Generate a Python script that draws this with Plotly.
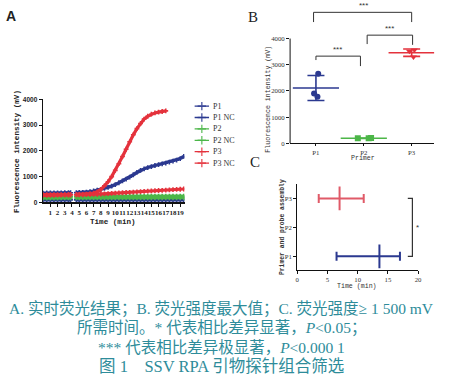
import plotly.graph_objects as go
import numpy as np

W, H = 449, 388


def px(x):
    return x / W


def py(y):
    return 1 - y / H


# ---------------- Panel A: real-time fluorescence ----------------
time_min = [0, 0.5, 1, 1.5, 2, 2.5, 3, 3.5, 3.8, 4.2, 4.6, 5, 5.5, 6, 6.5, 7, 7.5, 8, 8.5, 9,
            9.5, 10, 10.5, 11, 11.5, 12, 12.5, 13, 13.5, 14, 14.5, 15, 15.5, 16, 16.5, 17,
            17.5, 18, 18.5, 19, 19.5]
a_p1 = [360, 362, 364, 366, 368, 370, 372, 374, 375, None, 378, 382, 388, 398, 415, 440, 475,
        505, 540, 580, 630, 690, 760, 830, 900, 980, 1070, 1160, 1240, 1300, 1350, 1390, 1430,
        1460, 1490, 1520, 1560, 1600, 1640, 1700, 1780]
a_p1_nc = [95, 95, 94, 94, 95, 95, 94, 94, 95, None, 95, 94, 94, 95, 95, 94, 95, 95, 94, 94,
           95, 95, 94, 95, 95, 94, 94, 95, 95, 94, 95, 95, 94, 94, 95, 95, 94, 95, 95, 94, 95]
a_p2 = [225, 226, 226, 227, 227, 228, 228, 228, 229, None, 229, 229, 230, 230, 230, 231, 231,
        231, 232, 232, 232, 233, 233, 233, 234, 234, 234, 235, 235, 235, 236, 236, 236, 237,
        237, 237, 238, 238, 238, 239, 239]
a_p2_nc = [168, 168, 169, 169, 169, 170, 170, 170, 170, None, 171, 171, 171, 172, 172, 172,
           172, 173, 173, 173, 173, 174, 174, 174, 174, 175, 175, 175, 175, 176, 176, 176, 176,
           177, 177, 177, 177, 178, 178, 178, 178]
a_p3 = [300, 300, 300, 302, 302, 303, 303, 304, 305, None, 306, 308, 312, 320, 335, 360, 410,
        500, 640, 800, 1000, 1240, 1500, 1780, 2060, 2350, 2620, 2860, 3060, 3230, 3340, 3420,
        3470, 3500, 3525, 3550, None, None, None, None, None]
a_p3_nc = [270, 272, 274, 276, 278, 280, 282, 284, 285, None, 288, 290, 293, 297, 302, 308, 315,
           322, 330, 338, 346, 355, 364, 373, 382, 391, 400, 409, 418, 427, 436, 444, 452, 460,
           468, 476, 484, 492, 500, 508, 518]
a_names = ["P1", "P1 NC", "P2", "P2 NC", "P3", "P3 NC"]
a_series = [a_p1, a_p1_nc, a_p2, a_p2_nc, a_p3, a_p3_nc]
a_x_ticks = list(range(1, 20))
a_y_ticks = [0, 1000, 2000, 3000, 4000]

# ---------------- Panel B: max fluorescence ----------------
b_categories = ["P1", "P2", "P3"]
b_p1 = [2660, 1780, 1900]
b_p2 = [200, 195, 205]
b_p3 = [3560, 3520, 3300]
b_values = [b_p1, b_p2, b_p3]
b_y_ticks = [0, 1000, 2000, 3000, 4000]

# ---------------- Panel C: time to >= 1500 mV ----------------
c_labels = ["P1", "P2", "P3"]
c_primers = ["P1", "P3"]
c_low = [6.5, 3.55]
c_mean = [13.6, 7.0]
c_high = [17.0, 11.0]
c_x_ticks = [0, 5, 10, 15, 20]

NAVY = "#2b3990"
GREEN = "#4cb648"
RED = "#e4323c"
C_RED = "#e05a68"
TEAL = "#2e8c9a"
a_colors = [NAVY, NAVY, GREEN, GREEN, RED, RED]
b_colors = [NAVY, GREEN, RED]
b_symbols = ["circle", "square", "triangle-down"]
b_jitter = [0.25, 0.8, 0.3]
c_colors = [NAVY, C_RED]

fig = go.Figure()

# Panel A curves
for name, vals, col in zip(a_names, a_series, a_colors):
    fig.add_trace(go.Scatter(
        x=time_min, y=vals, mode="lines+markers", name=name,
        line=dict(color=col, width=3.2),
        marker=dict(symbol="cross", size=4, color=col),
        connectgaps=False, xaxis="x", yaxis="y", showlegend=False, hoverinfo="skip"))

# Panel A legend (custom, compact)
for i, (name, col) in enumerate(zip(a_names, a_colors)):
    fig.add_trace(go.Scatter(
        x=[0, 0.5, 1], y=[i, i, i], mode="lines+markers",
        line=dict(color=col, width=1.3),
        marker=dict(symbol="cross-thin-open", size=[0, 6, 0], color=col, line=dict(width=1.6, color=col)),
        xaxis="x4", yaxis="y4", showlegend=False, hoverinfo="skip"))

# Panel B scatter + mean +- SD
for cat, vals, col, sym, jit in zip(b_categories, b_values, b_colors, b_symbols, b_jitter):
    fig.add_trace(go.Box(
        x=[cat] * len(vals), y=vals, boxpoints="all", jitter=jit, pointpos=0,
        fillcolor="rgba(0,0,0,0)", line=dict(width=0, color="rgba(0,0,0,0)"),
        whiskerwidth=0, marker=dict(symbol=sym, size=6, color=col),
        xaxis="x2", yaxis="y2", showlegend=False, hoverinfo="skip"))
    m = float(np.mean(vals))
    s = float(np.std(vals, ddof=1))
    fig.add_trace(go.Scatter(
        x=[cat], y=[m], mode="markers",
        marker=dict(symbol="line-ew", size=33, color=col, line=dict(width=1.6, color=col)),
        error_y=dict(type="data", array=[s], width=8.5, thickness=1.6, color=col),
        xaxis="x2", yaxis="y2", showlegend=False, hoverinfo="skip"))

# Panel C horizontal range bars
for name, lo, mn, hi, col in zip(c_primers, c_low, c_mean, c_high, c_colors):
    fig.add_trace(go.Scatter(
        x=[mn], y=[c_labels.index(name)], mode="markers",
        marker=dict(symbol="line-ns", size=17, color=col, line=dict(width=2, color=col)),
        error_x=dict(type="data", symmetric=False, array=[hi - mn], arrayminus=[mn - lo],
                     width=4.5, thickness=2, color=col),
        xaxis="x3", yaxis="y3", showlegend=False, hoverinfo="skip"))

tick_bold = dict(family="Liberation Serif", size=7, color="#222", weight="bold")
tick_light = dict(family="Liberation Serif", size=6.8, color="#333")
axis_common = dict(showgrid=False, zeroline=False, ticks="outside",
                   tickcolor="#111", linecolor="#111", fixedrange=True)

fig.update_layout(
    width=W, height=H, margin=dict(l=0, r=0, t=0, b=0),
    paper_bgcolor="white", plot_bgcolor="white", showlegend=False, hovermode=False,
    xaxis=dict(domain=[px(41.7), px(185)], range=[0, 19.6], tickvals=a_x_ticks, tickangle=0,
               showline=True, linewidth=1.5, tickfont=tick_bold, anchor="y", ticklen=3,
               **axis_common),
    yaxis=dict(domain=[py(202), py(97)], range=[0, 4000], tickvals=a_y_ticks,
               showline=True, linewidth=1.5, ticklen=3,
               tickfont=dict(family="Liberation Sans Narrow, Liberation Sans", size=6.5, color="#222", weight="bold"),
               anchor="x", **axis_common),
    xaxis2=dict(domain=[px(292), px(438)], type="category", categoryorder="array",
                categoryarray=b_categories, range=[-0.54, 2.47], showline=True, linewidth=1,
                ticklen=2, tickfont=tick_light, anchor="y2", **axis_common),
    yaxis2=dict(domain=[py(142), py(5)], range=[0, 5131], tickvals=b_y_ticks, showline=False,
                ticklen=3, tickfont=tick_light, anchor="x2", **axis_common),
    xaxis3=dict(domain=[px(299.3), px(421.7)], range=[0, 20], tickvals=c_x_ticks, showline=True,
                ticklen=3, linewidth=1, tickfont=tick_light, anchor="y3", **axis_common),
    yaxis3=dict(domain=[py(271), py(183)], range=[-0.475, 2.51], tickvals=[0, 1, 2],
                ticktext=c_labels, showline=True, linewidth=1, ticklen=3, tickfont=tick_light,
                anchor="x3", **axis_common),
    xaxis4=dict(domain=[px(195), px(210)], range=[0, 1], visible=False, fixedrange=True, anchor="y4"),
    yaxis4=dict(domain=[py(167.8), py(98.2)], range=[5.5, -0.5], visible=False, fixedrange=True, anchor="x4"),
)

shapes = []
# B y-axis line only up to 4000
shapes.append(dict(type="line", xref="x2 domain", yref="y2", x0=0, x1=0, y0=0, y1=4000,
                   line=dict(color="#111", width=1)))
# B brackets
br = dict(color="#333", width=1)
b_brackets = [
    # x_left, x_right, top, left_drop, right_drop
    (0.0, 0.93, 3330, 3180, 2950),
    (1.07, 2.02, 4130, 3790, 3760),
    (-0.05, 2.0, 5000, 4630, 4630),
]
for xl, xr, top, ld, rd in b_brackets:
    shapes.append(dict(type="line", xref="x2", yref="y2", x0=xl, x1=xr, y0=top, y1=top, line=br))
    shapes.append(dict(type="line", xref="x2", yref="y2", x0=xl, x1=xl, y0=ld, y1=top, line=br))
    shapes.append(dict(type="line", xref="x2", yref="y2", x0=xr, x1=xr, y0=rd, y1=top, line=br))
# C bracket
shapes.append(dict(type="path", xref="x3", yref="y3",
                   path="M 18.3 2 L 19.06 2 L 19.06 0 L 18.3 0",
                   line=dict(color="#333", width=1.2)))
fig.update_layout(shapes=shapes)

ann = []
star_font = dict(family="Liberation Sans", size=8, color="#333")
for (xl, xr, top, ld, rd), xt in zip(b_brackets, [0.45, 1.53, 1.0]):
    ann.append(dict(text="***", x=xt, y=top, xref="x2", yref="y2", showarrow=False,
                    yanchor="bottom", font=star_font))
ann.append(dict(text="*", x=19.85, y=1, xref="x3", yref="y3", showarrow=False,
                font=dict(family="Liberation Sans", size=8, color="#333")))

# Legend labels for panel A
for i, name in enumerate(a_names):
    ann.append(dict(text=name, x=px(212), y=i, xref="paper", yref="y4", xanchor="left",
                    showarrow=False, font=dict(family="Liberation Serif", size=8, color="#333")))

mono_b = dict(family="Liberation Mono", size=7.6, color="#222", weight="bold")
mono_l = dict(family="Liberation Mono", size=6.6, color="#333")
ann += [
    dict(text="Fluorescence intensity (mV)", x=px(15), y=py(150), textangle=-90, font=mono_b),
    dict(text="Time (min)", x=px(113), y=py(222), font=mono_b),
    dict(text="Fluorescence intensity (mV)", x=px(270), y=py(97), textangle=-90, font=mono_l),
    dict(text="Primer", x=px(366), y=py(157), font=mono_l),
    dict(text="Primer and probe assembly", x=px(285), y=py(227), textangle=-90,
         font=dict(family="Liberation Mono", size=6.4, color="#333", weight="bold")),
    dict(text="Time (min)", x=px(360), y=py(288), font=mono_l),
    dict(text="A", x=px(9), y=py(12),
         font=dict(family="Liberation Sans Narrow, Liberation Sans", size=14, color="#222", weight="bold")),
    dict(text="B", x=px(254), y=py(13), font=dict(family="Liberation Serif", size=15, color="#222")),
    dict(text="C", x=px(256), y=py(161), font=dict(family="Liberation Serif", size=15, color="#222")),
]

cap_font = dict(family="Liberation Serif, Noto Sans CJK SC", size=15.5, color=TEAL)
caption_lines = [
    "A. 实时荧光结果；B. 荧光强度最大值；C. 荧光强度≥ 1 500 mV",
    "所需时间。* 代表相比差异显著，<i>P</i>&lt;0.05；",
    "*** 代表相比差异极显著，<i>P</i>&lt;0.000 1",
]
for line, yy in zip(caption_lines, [311, 330, 350]):
    ann.append(dict(text=line, x=px(222), y=py(yy), font=cap_font))
ann.append(dict(text="图 1　SSV RPA 引物探针组合筛选", x=px(222), y=py(369),
                font=dict(family="Liberation Serif, Noto Sans CJK SC", size=16.5, color=TEAL)))

for a in ann:
    a.setdefault("xref", "paper")
    a.setdefault("yref", "paper")
    a.setdefault("showarrow", False)
    a.setdefault("xanchor", "center")
    a.setdefault("yanchor", "middle")

fig.update_layout(annotations=ann)

# remove the default 8px body margin so the figure fills the window exactly
fig.write_html("out.html", config={"displayModeBar": False, "staticPlot": True},
               post_script="document.body.style.margin='0';")
